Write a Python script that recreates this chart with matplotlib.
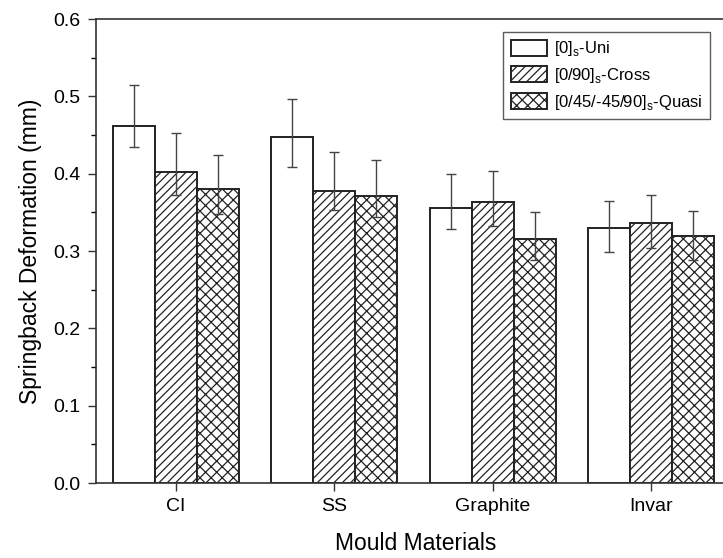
import matplotlib
matplotlib.use("Agg")
import matplotlib.pyplot as plt
import numpy as np
from matplotlib.ticker import MultipleLocator

plt.rcParams['font.family'] = ['Liberation Sans', 'DejaVu Sans']
plt.rcParams['hatch.linewidth'] = 0.9
plt.rcParams['mathtext.fontset'] = 'custom'
plt.rcParams['mathtext.rm'] = 'Liberation Sans'

categories = ["CI", "SS", "Graphite", "Invar"]
series_names = [r"[0]$_\mathrm{s}$-Uni", r"[0/90]$_\mathrm{s}$-Cross", r"[0/45/-45/90]$_\mathrm{s}$-Quasi"]
uni = [0.462, 0.447, 0.355, 0.330]
cross = [0.402, 0.378, 0.363, 0.336]
quasi = [0.380, 0.371, 0.315, 0.319]
uni_lo = [0.435, 0.408, 0.329, 0.299]
uni_hi = [0.515, 0.497, 0.400, 0.365]
cross_lo = [0.372, 0.353, 0.332, 0.304]
cross_hi = [0.452, 0.428, 0.404, 0.372]
quasi_lo = [0.348, 0.344, 0.289, 0.289]
quasi_hi = [0.424, 0.418, 0.351, 0.352]
hatches = ["", "////", "xxx"]

fig = plt.figure(figsize=(7.23, 5.58), dpi=100)
ax = fig.add_axes([96/723, 75/558, (735-96)/723, (483-19)/558])

x = np.arange(len(categories))
w = 0.265
series = [(uni, uni_lo, uni_hi), (cross, cross_lo, cross_hi), (quasi, quasi_lo, quasi_hi)]
for i, (vals, lo, hi) in enumerate(series):
    pos = x + (i - 1) * w
    vals = np.array(vals)
    yerr = np.vstack([vals - np.array(lo), np.array(hi) - vals])
    ax.bar(pos, vals, w, color="white", edgecolor="#222222", linewidth=1.4,
           hatch=hatches[i], label=series_names[i], zorder=2)
    ax.errorbar(pos, vals, yerr=yerr, fmt="none", ecolor="#444444",
                elinewidth=1.0, capsize=3.5, capthick=1.0, zorder=3)

ax.set_xlim(-0.505, 3.53)
ax.set_ylim(0, 0.6)
ax.set_xticks(x)
ax.set_xticklabels(categories, fontsize=14)
ax.yaxis.set_minor_locator(MultipleLocator(0.05))
ax.set_yticks(np.arange(0, 0.61, 0.1))
ax.set_yticklabels([f"{v:.1f}" for v in np.arange(0, 0.61, 0.1)], fontsize=14)
ax.tick_params(axis="both", direction="out", length=6, width=1.0, color="#333333", pad=5)
ax.tick_params(axis="y", which="minor", direction="out", length=3.5, width=1.0)
ax.tick_params(axis="x", which="minor", bottom=False)
for s in ["left", "top", "bottom"]:
    ax.spines[s].set_linewidth(1.2)
    ax.spines[s].set_color("#333333")
ax.spines["right"].set_visible(False)

ax.set_ylabel("Springback Deformation (mm)", fontsize=16.5, labelpad=8)
ax.set_xlabel("Mould Materials", fontsize=16.5, labelpad=12)

leg = ax.legend(loc="upper left", bbox_to_anchor=((503-96)/(735-96), (483-32)/(483-19)),
                fontsize=12, frameon=True, fancybox=False, edgecolor="#333333",
                handlelength=2.2, handleheight=1.1, borderpad=0.45, labelspacing=0.45,
                handletextpad=0.4, borderaxespad=0)
leg.get_frame().set_linewidth(1.0)

fig.savefig("out.png", dpi=100)
